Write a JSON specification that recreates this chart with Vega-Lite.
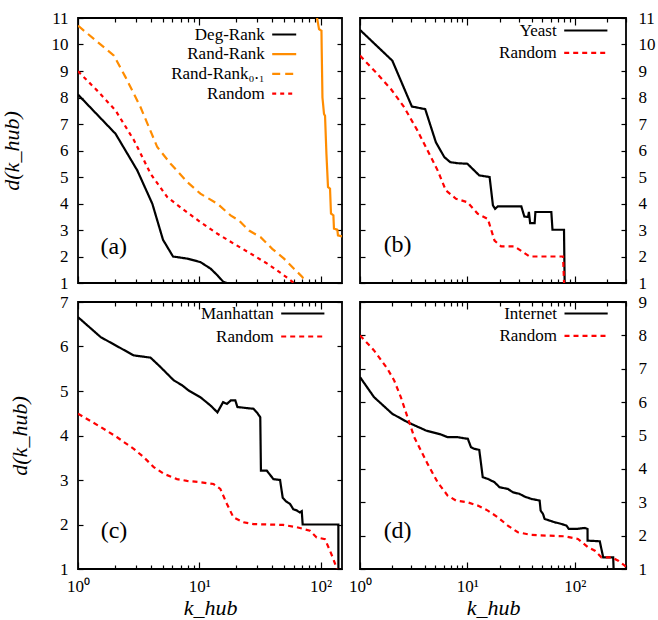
{
  "$schema": "https://vega.github.io/schema/vega-lite/v6.json",
  "padding": {"left": -1, "top": 8, "right": 0, "bottom": 0},
  "config": {
    "view": {"stroke": "black", "strokeWidth": 1.8},
    "axis": {"labelFont": "Liberation Serif", "labelFontSize": 17, "labelColor": "black", "titleFont": "Liberation Serif", "titleFontSize": 22, "titleFontWeight": "normal", "titleColor": "black", "tickColor": "black", "tickWidth": 1.2, "domain": false, "grid": false, "labelFlush": false, "labelOverlap": false},
    "legend": {"labelFont": "Liberation Serif", "labelFontSize": 17, "labelColor": "black"},
    "text": {"font": "Liberation Serif"}
  },
  "datasets": {
    "a": [
      {"s": "Deg-Rank", "k": 1, "d": 8.11}, {"s": "Deg-Rank", "k": 2.04, "d": 6.63}, {"s": "Deg-Rank", "k": 3.08, "d": 5.25}, {"s": "Deg-Rank", "k": 4.1, "d": 3.99}, {"s": "Deg-Rank", "k": 5.02, "d": 2.63}, {"s": "Deg-Rank", "k": 6.07, "d": 2.0}, {"s": "Deg-Rank", "k": 7.95, "d": 1.92}, {"s": "Deg-Rank", "k": 10.2, "d": 1.79}, {"s": "Deg-Rank", "k": 12.4, "d": 1.54}, {"s": "Deg-Rank", "k": 14.1, "d": 1.29}, {"s": "Deg-Rank", "k": 15.8, "d": 1.04}, {"s": "Deg-Rank", "k": 17, "d": 1.0}, {"s": "Deg-Rank", "k": 30, "d": 1.0},
      {"s": "Rand-Rank", "k": 93.4, "d": 11}, {"s": "Rand-Rank", "k": 97, "d": 10.58}, {"s": "Rand-Rank", "k": 101.6, "d": 10.52}, {"s": "Rand-Rank", "k": 102, "d": 9.9}, {"s": "Rand-Rank", "k": 103.5, "d": 8.0}, {"s": "Rand-Rank", "k": 106.6, "d": 7.38}, {"s": "Rand-Rank", "k": 108.7, "d": 7.31}, {"s": "Rand-Rank", "k": 111.6, "d": 5.88}, {"s": "Rand-Rank", "k": 115, "d": 4.62}, {"s": "Rand-Rank", "k": 119.5, "d": 4.56}, {"s": "Rand-Rank", "k": 121.7, "d": 3.62}, {"s": "Rand-Rank", "k": 127.4, "d": 3.55}, {"s": "Rand-Rank", "k": 128.8, "d": 3.05}, {"s": "Rand-Rank", "k": 137.3, "d": 3.01}, {"s": "Rand-Rank", "k": 138.9, "d": 2.8}, {"s": "Rand-Rank", "k": 150, "d": 2.76},
      {"s": "Rand-Rank₀.₁", "k": 1, "d": 10.71}, {"s": "Rand-Rank₀.₁", "k": 1.98, "d": 9.58}, {"s": "Rand-Rank₀.₁", "k": 2.47, "d": 8.76}, {"s": "Rand-Rank₀.₁", "k": 3.28, "d": 7.63}, {"s": "Rand-Rank₀.₁", "k": 4.5, "d": 6.13}, {"s": "Rand-Rank₀.₁", "k": 5.8, "d": 5.5}, {"s": "Rand-Rank₀.₁", "k": 7.96, "d": 4.81}, {"s": "Rand-Rank₀.₁", "k": 10.2, "d": 4.37}, {"s": "Rand-Rank₀.₁", "k": 14.1, "d": 3.99}, {"s": "Rand-Rank₀.₁", "k": 18.1, "d": 3.55}, {"s": "Rand-Rank₀.₁", "k": 21.2, "d": 3.36}, {"s": "Rand-Rank₀.₁", "k": 25.7, "d": 2.98}, {"s": "Rand-Rank₀.₁", "k": 32, "d": 2.73}, {"s": "Rand-Rank₀.₁", "k": 39.9, "d": 2.29}, {"s": "Rand-Rank₀.₁", "k": 49.9, "d": 1.92}, {"s": "Rand-Rank₀.₁", "k": 60.3, "d": 1.54}, {"s": "Rand-Rank₀.₁", "k": 70.6, "d": 1.23}, {"s": "Rand-Rank₀.₁", "k": 75.2, "d": 1.0},
      {"s": "Random", "k": 1, "d": 8.99}, {"s": "Random", "k": 1.44, "d": 8.26}, {"s": "Random", "k": 2.04, "d": 7.51}, {"s": "Random", "k": 2.9, "d": 6.38}, {"s": "Random", "k": 3.97, "d": 5.12}, {"s": "Random", "k": 5.45, "d": 4.24}, {"s": "Random", "k": 7.25, "d": 3.8}, {"s": "Random", "k": 10.2, "d": 3.3}, {"s": "Random", "k": 14.1, "d": 2.86}, {"s": "Random", "k": 19.3, "d": 2.48}, {"s": "Random", "k": 26.5, "d": 2.11}, {"s": "Random", "k": 36.3, "d": 1.73}, {"s": "Random", "k": 46.8, "d": 1.38}, {"s": "Random", "k": 56.6, "d": 1.1}, {"s": "Random", "k": 60, "d": 1.0}
    ],
    "b": [
      {"s": "Yeast", "k": 1, "d": 10.55}, {"s": "Yeast", "k": 2.0, "d": 9.39}, {"s": "Yeast", "k": 3.04, "d": 7.66}, {"s": "Yeast", "k": 4.05, "d": 7.56}, {"s": "Yeast", "k": 5.09, "d": 6.31}, {"s": "Yeast", "k": 6.1, "d": 5.75}, {"s": "Yeast", "k": 6.93, "d": 5.56}, {"s": "Yeast", "k": 8.1, "d": 5.52}, {"s": "Yeast", "k": 10, "d": 5.5}, {"s": "Yeast", "k": 12.9, "d": 5.06}, {"s": "Yeast", "k": 16.1, "d": 5.0}, {"s": "Yeast", "k": 17.3, "d": 3.93}, {"s": "Yeast", "k": 18.1, "d": 3.8}, {"s": "Yeast", "k": 19.2, "d": 3.89}, {"s": "Yeast", "k": 31.8, "d": 3.89}, {"s": "Yeast", "k": 33.9, "d": 3.51}, {"s": "Yeast", "k": 36.7, "d": 3.49}, {"s": "Yeast", "k": 37.4, "d": 3.68}, {"s": "Yeast", "k": 38.4, "d": 3.26}, {"s": "Yeast", "k": 42.3, "d": 3.26}, {"s": "Yeast", "k": 43, "d": 3.68}, {"s": "Yeast", "k": 60.5, "d": 3.68}, {"s": "Yeast", "k": 62, "d": 3.01}, {"s": "Yeast", "k": 79.4, "d": 3.01}, {"s": "Yeast", "k": 80.5, "d": 1.0},
      {"s": "Random", "k": 1, "d": 9.58}, {"s": "Random", "k": 1.45, "d": 8.89}, {"s": "Random", "k": 1.94, "d": 8.32}, {"s": "Random", "k": 2.58, "d": 7.63}, {"s": "Random", "k": 3.43, "d": 6.75}, {"s": "Random", "k": 4.26, "d": 6.0}, {"s": "Random", "k": 5.28, "d": 5.25}, {"s": "Random", "k": 6.31, "d": 4.49}, {"s": "Random", "k": 7.83, "d": 4.18}, {"s": "Random", "k": 10, "d": 4.05}, {"s": "Random", "k": 12.5, "d": 3.61}, {"s": "Random", "k": 15.5, "d": 3.42}, {"s": "Random", "k": 17.9, "d": 2.6}, {"s": "Random", "k": 20.6, "d": 2.38}, {"s": "Random", "k": 27.5, "d": 2.38}, {"s": "Random", "k": 32.9, "d": 2.17}, {"s": "Random", "k": 38, "d": 2.0}, {"s": "Random", "k": 77.8, "d": 2.0}, {"s": "Random", "k": 79.5, "d": 1.0}
    ],
    "c": [
      {"s": "Manhattan", "k": 1, "d": 6.66}, {"s": "Manhattan", "k": 1.54, "d": 6.21}, {"s": "Manhattan", "k": 2.88, "d": 5.8}, {"s": "Manhattan", "k": 3.96, "d": 5.75}, {"s": "Manhattan", "k": 4.78, "d": 5.54}, {"s": "Manhattan", "k": 6.15, "d": 5.24}, {"s": "Manhattan", "k": 7.2, "d": 5.13}, {"s": "Manhattan", "k": 8.17, "d": 5.01}, {"s": "Manhattan", "k": 10.2, "d": 4.86}, {"s": "Manhattan", "k": 12.3, "d": 4.68}, {"s": "Manhattan", "k": 14.1, "d": 4.52}, {"s": "Manhattan", "k": 15.7, "d": 4.75}, {"s": "Manhattan", "k": 16.9, "d": 4.71}, {"s": "Manhattan", "k": 18.2, "d": 4.79}, {"s": "Manhattan", "k": 19.8, "d": 4.79}, {"s": "Manhattan", "k": 20.6, "d": 4.64}, {"s": "Manhattan", "k": 23.9, "d": 4.62}, {"s": "Manhattan", "k": 28, "d": 4.6}, {"s": "Manhattan", "k": 29.8, "d": 4.52}, {"s": "Manhattan", "k": 31.8, "d": 4.41}, {"s": "Manhattan", "k": 32.2, "d": 3.21}, {"s": "Manhattan", "k": 36, "d": 3.21}, {"s": "Manhattan", "k": 40.8, "d": 3.02}, {"s": "Manhattan", "k": 46.3, "d": 3.0}, {"s": "Manhattan", "k": 48.7, "d": 2.6}, {"s": "Manhattan", "k": 51.9, "d": 2.52}, {"s": "Manhattan", "k": 56, "d": 2.46}, {"s": "Manhattan", "k": 59.6, "d": 2.34}, {"s": "Manhattan", "k": 63.3, "d": 2.32}, {"s": "Manhattan", "k": 67.3, "d": 2.27}, {"s": "Manhattan", "k": 69.9, "d": 2.3}, {"s": "Manhattan", "k": 71.1, "d": 2.0}, {"s": "Manhattan", "k": 140, "d": 2.0}, {"s": "Manhattan", "k": 140.1, "d": 1.0},
      {"s": "Random", "k": 1, "d": 4.49}, {"s": "Random", "k": 1.54, "d": 4.19}, {"s": "Random", "k": 2.1, "d": 3.96}, {"s": "Random", "k": 2.88, "d": 3.7}, {"s": "Random", "k": 3.49, "d": 3.51}, {"s": "Random", "k": 4.21, "d": 3.29}, {"s": "Random", "k": 5.09, "d": 3.14}, {"s": "Random", "k": 6.55, "d": 3.02}, {"s": "Random", "k": 7.92, "d": 2.98}, {"s": "Random", "k": 10.2, "d": 2.95}, {"s": "Random", "k": 13.1, "d": 2.91}, {"s": "Random", "k": 14.9, "d": 2.8}, {"s": "Random", "k": 16.9, "d": 2.46}, {"s": "Random", "k": 19.1, "d": 2.16}, {"s": "Random", "k": 23.1, "d": 2.05}, {"s": "Random", "k": 28, "d": 2.01}, {"s": "Random", "k": 49.3, "d": 1.99}, {"s": "Random", "k": 63.3, "d": 1.94}, {"s": "Random", "k": 81.7, "d": 1.86}, {"s": "Random", "k": 92.7, "d": 1.71}, {"s": "Random", "k": 108.6, "d": 1.67}, {"s": "Random", "k": 119.4, "d": 1.41}, {"s": "Random", "k": 127, "d": 1.23}, {"s": "Random", "k": 133, "d": 1.08}, {"s": "Random", "k": 136, "d": 1.0}
    ],
    "d": [
      {"s": "Internet", "k": 1, "d": 6.75}, {"s": "Internet", "k": 1.35, "d": 6.15}, {"s": "Internet", "k": 2.0, "d": 5.65}, {"s": "Internet", "k": 2.77, "d": 5.4}, {"s": "Internet", "k": 4.11, "d": 5.15}, {"s": "Internet", "k": 5.67, "d": 5.03}, {"s": "Internet", "k": 6.55, "d": 4.95}, {"s": "Internet", "k": 8.1, "d": 4.95}, {"s": "Internet", "k": 10.1, "d": 4.9}, {"s": "Internet", "k": 10.8, "d": 4.65}, {"s": "Internet", "k": 11.6, "d": 4.6}, {"s": "Internet", "k": 12.9, "d": 4.57}, {"s": "Internet", "k": 13.9, "d": 3.75}, {"s": "Internet", "k": 15.5, "d": 3.7}, {"s": "Internet", "k": 17.9, "d": 3.6}, {"s": "Internet", "k": 19.9, "d": 3.45}, {"s": "Internet", "k": 23.8, "d": 3.4}, {"s": "Internet", "k": 26.5, "d": 3.3}, {"s": "Internet", "k": 30.6, "d": 3.25}, {"s": "Internet", "k": 34.1, "d": 3.17}, {"s": "Internet", "k": 39.4, "d": 3.1}, {"s": "Internet", "k": 43.9, "d": 3.07}, {"s": "Internet", "k": 47.1, "d": 3.05}, {"s": "Internet", "k": 48.1, "d": 2.75}, {"s": "Internet", "k": 50.6, "d": 2.65}, {"s": "Internet", "k": 52.4, "d": 2.5}, {"s": "Internet", "k": 58.4, "d": 2.45}, {"s": "Internet", "k": 65, "d": 2.4}, {"s": "Internet", "k": 75.1, "d": 2.35}, {"s": "Internet", "k": 83.7, "d": 2.3}, {"s": "Internet", "k": 88, "d": 2.2}, {"s": "Internet", "k": 103.7, "d": 2.2}, {"s": "Internet", "k": 124, "d": 2.23}, {"s": "Internet", "k": 131.5, "d": 2.2}, {"s": "Internet", "k": 131.6, "d": 1.85}, {"s": "Internet", "k": 171, "d": 1.83}, {"s": "Internet", "k": 177, "d": 1.6}, {"s": "Internet", "k": 184, "d": 1.35}, {"s": "Internet", "k": 228, "d": 1.35}, {"s": "Internet", "k": 230, "d": 1.0},
      {"s": "Random", "k": 1, "d": 8.0}, {"s": "Random", "k": 1.35, "d": 7.55}, {"s": "Random", "k": 1.8, "d": 7.0}, {"s": "Random", "k": 2.08, "d": 6.65}, {"s": "Random", "k": 2.4, "d": 6.15}, {"s": "Random", "k": 2.77, "d": 5.55}, {"s": "Random", "k": 3.2, "d": 4.95}, {"s": "Random", "k": 3.69, "d": 4.55}, {"s": "Random", "k": 4.26, "d": 4.15}, {"s": "Random", "k": 5.28, "d": 3.6}, {"s": "Random", "k": 6.55, "d": 3.2}, {"s": "Random", "k": 7.83, "d": 3.05}, {"s": "Random", "k": 10, "d": 3.0}, {"s": "Random", "k": 12.5, "d": 2.9}, {"s": "Random", "k": 15.5, "d": 2.75}, {"s": "Random", "k": 19.2, "d": 2.55}, {"s": "Random", "k": 23.8, "d": 2.3}, {"s": "Random", "k": 29.5, "d": 2.1}, {"s": "Random", "k": 39.4, "d": 2.02}, {"s": "Random", "k": 56.4, "d": 2.0}, {"s": "Random", "k": 80.7, "d": 1.98}, {"s": "Random", "k": 107, "d": 1.9}, {"s": "Random", "k": 133, "d": 1.65}, {"s": "Random", "k": 154, "d": 1.55}, {"s": "Random", "k": 177, "d": 1.35}, {"s": "Random", "k": 220, "d": 1.35}, {"s": "Random", "k": 254, "d": 1.25}, {"s": "Random", "k": 293, "d": 1.1}, {"s": "Random", "k": 300, "d": 1.05}
    ],
    "one": [{}]
  },
  "columns": 2,
  "bounds": "flush",
  "spacing": {"row": 19, "column": 18},
  "resolve": {"scale": {"color": "independent", "strokeDash": "independent"}},
  "concat": [
    {
      "width": 264, "height": 265,
      "layer": [
        {
          "data": {"name": "a"},
          "mark": {"type": "line", "clip": true, "strokeWidth": 2.2},
          "encoding": {
            "x": {"field": "k", "type": "quantitative", "scale": {"type": "log", "domain": [1, 150], "nice": false},
              "axis": {"orient": "bottom", "values": [1,2,3,4,5,6,7,8,9,10,20,30,40,50,60,70,80,90,100], "labels": false, "title": null, "tickSize": {"condition": {"test": "datum.value == 1 || datum.value == 10 || datum.value == 100", "value": -7}, "value": -4}}},
            "y": {"field": "d", "type": "quantitative", "scale": {"domain": [1, 11], "nice": false, "zero": false},
              "axis": {"orient": "left", "values": [1,2,3,4,5,6,7,8,9,10,11], "tickSize": -5, "labelPadding": 15, "title": "d(k_hub)", "titleFontStyle": "italic", "titlePadding": 28}},
            "color": {"field": "s", "type": "nominal", "scale": {"domain": ["Deg-Rank", "Rand-Rank", "Rand-Rank₀.₁", "Random"], "range": ["#000000", "#ff8c00", "#ff8c00", "#ff0000"]},
              "legend": {"orient": "none", "legendX": 197.7, "legendY": 8, "title": null, "labelAlign": "right", "labelOffset": -28, "symbolType": "M-2,0H2", "symbolSize": 144, "symbolStrokeWidth": 2.2, "rowPadding": 1.7, "padding": 0}},
            "strokeDash": {"field": "s", "type": "nominal", "scale": {"domain": ["Deg-Rank", "Rand-Rank", "Rand-Rank₀.₁", "Random"], "range": [[1, 0], [1, 0], [8, 5], [4, 4]]},
              "legend": {"orient": "none", "legendX": 197.7, "legendY": 8, "title": null, "labelAlign": "right", "labelOffset": -28, "symbolType": "M-2,0H2", "symbolSize": 144, "symbolStrokeWidth": 2.2, "rowPadding": 1.7, "padding": 0}}
          }
        },
        {
          "data": {"name": "a"},
          "mark": {"type": "line", "opacity": 0},
          "encoding": {
            "x": {"field": "k", "type": "quantitative", "axis": {"orient": "top", "values": [1,2,3,4,5,6,7,8,9,10,20,30,40,50,60,70,80,90,100], "labels": false, "title": null, "tickSize": {"condition": {"test": "datum.value == 1 || datum.value == 10 || datum.value == 100", "value": -7}, "value": -4}}},
            "y": {"field": "d", "type": "quantitative", "axis": {"orient": "right", "values": [1,2,3,4,5,6,7,8,9,10,11], "labels": false, "title": null, "tickSize": -5}}
          }
        },
        {
          "data": {"name": "one"},
          "mark": {"type": "text", "fontSize": 24, "align": "center", "baseline": "middle", "color": "black"},
          "encoding": {
            "x": {"datum": 1.97, "type": "quantitative", "axis": null},
            "y": {"datum": 2.35, "type": "quantitative", "axis": null},
            "text": {"value": "(a)"}
          }
        }
      ],
      "resolve": {"axis": {"x": "independent", "y": "independent"}}
    },
    {
      "width": 266, "height": 265,
      "layer": [
        {
          "data": {"name": "b"},
          "mark": {"type": "line", "clip": true, "strokeWidth": 2.2},
          "encoding": {
            "x": {"field": "k", "type": "quantitative", "scale": {"type": "log", "domain": [1, 300], "nice": false},
              "axis": {"orient": "bottom", "values": [1,2,3,4,5,6,7,8,9,10,20,30,40,50,60,70,80,90,100,200,300], "labels": false, "title": null, "tickSize": {"condition": {"test": "datum.value == 1 || datum.value == 10 || datum.value == 100", "value": -7}, "value": -4}}},
            "y": {"field": "d", "type": "quantitative", "scale": {"domain": [1, 11], "nice": false, "zero": false},
              "axis": {"orient": "right", "values": [1,2,3,4,5,6,7,8,9,10,11], "tickSize": -5, "labelPadding": 17, "title": null}},
            "color": {"field": "s", "type": "nominal", "scale": {"domain": ["Yeast", "Random"], "range": ["#000000", "#ff0000"]},
              "legend": {"orient": "none", "legendX": 217.3, "legendY": 4, "title": null, "labelAlign": "right", "labelOffset": -37.6, "symbolType": "M-3.6,0H3.6", "symbolSize": 144, "symbolStrokeWidth": 2.2, "rowPadding": 4.4, "padding": 0}},
            "strokeDash": {"field": "s", "type": "nominal", "scale": {"domain": ["Yeast", "Random"], "range": [[1, 0], [5, 4]]},
              "legend": {"orient": "none", "legendX": 217.3, "legendY": 4, "title": null, "labelAlign": "right", "labelOffset": -37.6, "symbolType": "M-3.6,0H3.6", "symbolSize": 144, "symbolStrokeWidth": 2.2, "rowPadding": 4.4, "padding": 0}}
          }
        },
        {
          "data": {"name": "b"},
          "mark": {"type": "line", "opacity": 0},
          "encoding": {
            "x": {"field": "k", "type": "quantitative", "axis": {"orient": "top", "values": [1,2,3,4,5,6,7,8,9,10,20,30,40,50,60,70,80,90,100,200,300], "labels": false, "title": null, "tickSize": {"condition": {"test": "datum.value == 1 || datum.value == 10 || datum.value == 100", "value": -7}, "value": -4}}},
            "y": {"field": "d", "type": "quantitative", "axis": {"orient": "left", "values": [1,2,3,4,5,6,7,8,9,10,11], "labels": false, "title": null, "tickSize": -5}}
          }
        },
        {
          "data": {"name": "one"},
          "mark": {"type": "text", "fontSize": 24, "align": "center", "baseline": "middle", "color": "black"},
          "encoding": {
            "x": {"datum": 2.24, "type": "quantitative", "axis": null},
            "y": {"datum": 2.42, "type": "quantitative", "axis": null},
            "text": {"value": "(b)"}
          }
        }
      ],
      "resolve": {"axis": {"x": "independent", "y": "independent"}}
    },
    {
      "width": 264, "height": 267,
      "layer": [
        {
          "data": {"name": "c"},
          "mark": {"type": "line", "clip": true, "strokeWidth": 2.2},
          "encoding": {
            "x": {"field": "k", "type": "quantitative", "scale": {"type": "log", "domain": [1, 150], "nice": false},
              "axis": {"orient": "bottom", "values": [1,2,3,4,5,6,7,8,9,10,20,30,40,50,60,70,80,90,100], "labelExpr": "datum.value == 1 ? '10⁰' : datum.value == 10 ? '10¹' : datum.value == 100 ? '10²' : ''", "labelPadding": 16, "title": "k_hub", "titleFontStyle": "italic", "titlePadding": 0, "tickSize": {"condition": {"test": "datum.value == 1 || datum.value == 10 || datum.value == 100", "value": -7}, "value": -4}}},
            "y": {"field": "d", "type": "quantitative", "scale": {"domain": [1, 7], "nice": false, "zero": false},
              "axis": {"orient": "left", "values": [1,2,3,4,5,6,7], "tickSize": -5, "labelPadding": 15, "title": "d(k_hub)", "titleFontStyle": "italic", "titlePadding": 28}},
            "color": {"field": "s", "type": "nominal", "scale": {"domain": ["Manhattan", "Random"], "range": ["#000000", "#ff0000"]},
              "legend": {"orient": "none", "legendX": 216.3, "legendY": 3, "title": null, "labelAlign": "right", "labelOffset": -37.6, "symbolType": "M-3.6,0H3.6", "symbolSize": 144, "symbolStrokeWidth": 2.2, "rowPadding": 5, "padding": 0}},
            "strokeDash": {"field": "s", "type": "nominal", "scale": {"domain": ["Manhattan", "Random"], "range": [[1, 0], [5, 4]]},
              "legend": {"orient": "none", "legendX": 216.3, "legendY": 3, "title": null, "labelAlign": "right", "labelOffset": -37.6, "symbolType": "M-3.6,0H3.6", "symbolSize": 144, "symbolStrokeWidth": 2.2, "rowPadding": 5, "padding": 0}}
          }
        },
        {
          "data": {"name": "c"},
          "mark": {"type": "line", "opacity": 0},
          "encoding": {
            "x": {"field": "k", "type": "quantitative", "axis": {"orient": "top", "values": [1,2,3,4,5,6,7,8,9,10,20,30,40,50,60,70,80,90,100], "labels": false, "title": null, "tickSize": {"condition": {"test": "datum.value == 1 || datum.value == 10 || datum.value == 100", "value": -7}, "value": -4}}},
            "y": {"field": "d", "type": "quantitative", "axis": {"orient": "right", "values": [1,2,3,4,5,6,7], "labels": false, "title": null, "tickSize": -5}}
          }
        },
        {
          "data": {"name": "one"},
          "mark": {"type": "text", "fontSize": 24, "align": "center", "baseline": "middle", "color": "black"},
          "encoding": {
            "x": {"datum": 1.98, "type": "quantitative", "axis": null},
            "y": {"datum": 1.86, "type": "quantitative", "axis": null},
            "text": {"value": "(c)"}
          }
        }
      ],
      "resolve": {"axis": {"x": "independent", "y": "independent"}}
    },
    {
      "width": 266, "height": 267,
      "layer": [
        {
          "data": {"name": "d"},
          "mark": {"type": "line", "clip": true, "strokeWidth": 2.2},
          "encoding": {
            "x": {"field": "k", "type": "quantitative", "scale": {"type": "log", "domain": [1, 300], "nice": false},
              "axis": {"orient": "bottom", "values": [1,2,3,4,5,6,7,8,9,10,20,30,40,50,60,70,80,90,100,200,300], "labelExpr": "datum.value == 1 ? '10⁰' : datum.value == 10 ? '10¹' : datum.value == 100 ? '10²' : ''", "labelPadding": 16, "title": "k_hub", "titleFontStyle": "italic", "titlePadding": 0, "tickSize": {"condition": {"test": "datum.value == 1 || datum.value == 10 || datum.value == 100", "value": -7}, "value": -4}}},
            "y": {"field": "d", "type": "quantitative", "scale": {"domain": [1, 9], "nice": false, "zero": false},
              "axis": {"orient": "right", "values": [1,2,3,4,5,6,7,8,9], "tickSize": -5, "labelPadding": 17, "title": null}},
            "color": {"field": "s", "type": "nominal", "scale": {"domain": ["Internet", "Random"], "range": ["#000000", "#ff0000"]},
              "legend": {"orient": "none", "legendX": 217.6, "legendY": 3, "title": null, "labelAlign": "right", "labelOffset": -37.6, "symbolType": "M-3.6,0H3.6", "symbolSize": 144, "symbolStrokeWidth": 2.2, "rowPadding": 4.4, "padding": 0}},
            "strokeDash": {"field": "s", "type": "nominal", "scale": {"domain": ["Internet", "Random"], "range": [[1, 0], [5, 4]]},
              "legend": {"orient": "none", "legendX": 217.6, "legendY": 3, "title": null, "labelAlign": "right", "labelOffset": -37.6, "symbolType": "M-3.6,0H3.6", "symbolSize": 144, "symbolStrokeWidth": 2.2, "rowPadding": 4.4, "padding": 0}}
          }
        },
        {
          "data": {"name": "d"},
          "mark": {"type": "line", "opacity": 0},
          "encoding": {
            "x": {"field": "k", "type": "quantitative", "axis": {"orient": "top", "values": [1,2,3,4,5,6,7,8,9,10,20,30,40,50,60,70,80,90,100,200,300], "labels": false, "title": null, "tickSize": {"condition": {"test": "datum.value == 1 || datum.value == 10 || datum.value == 100", "value": -7}, "value": -4}}},
            "y": {"field": "d", "type": "quantitative", "axis": {"orient": "left", "values": [1,2,3,4,5,6,7,8,9], "labels": false, "title": null, "tickSize": -5}}
          }
        },
        {
          "data": {"name": "one"},
          "mark": {"type": "text", "fontSize": 24, "align": "center", "baseline": "middle", "color": "black"},
          "encoding": {
            "x": {"datum": 2.24, "type": "quantitative", "axis": null},
            "y": {"datum": 2.15, "type": "quantitative", "axis": null},
            "text": {"value": "(d)"}
          }
        }
      ],
      "resolve": {"axis": {"x": "independent", "y": "independent"}}
    }
  ]
}
